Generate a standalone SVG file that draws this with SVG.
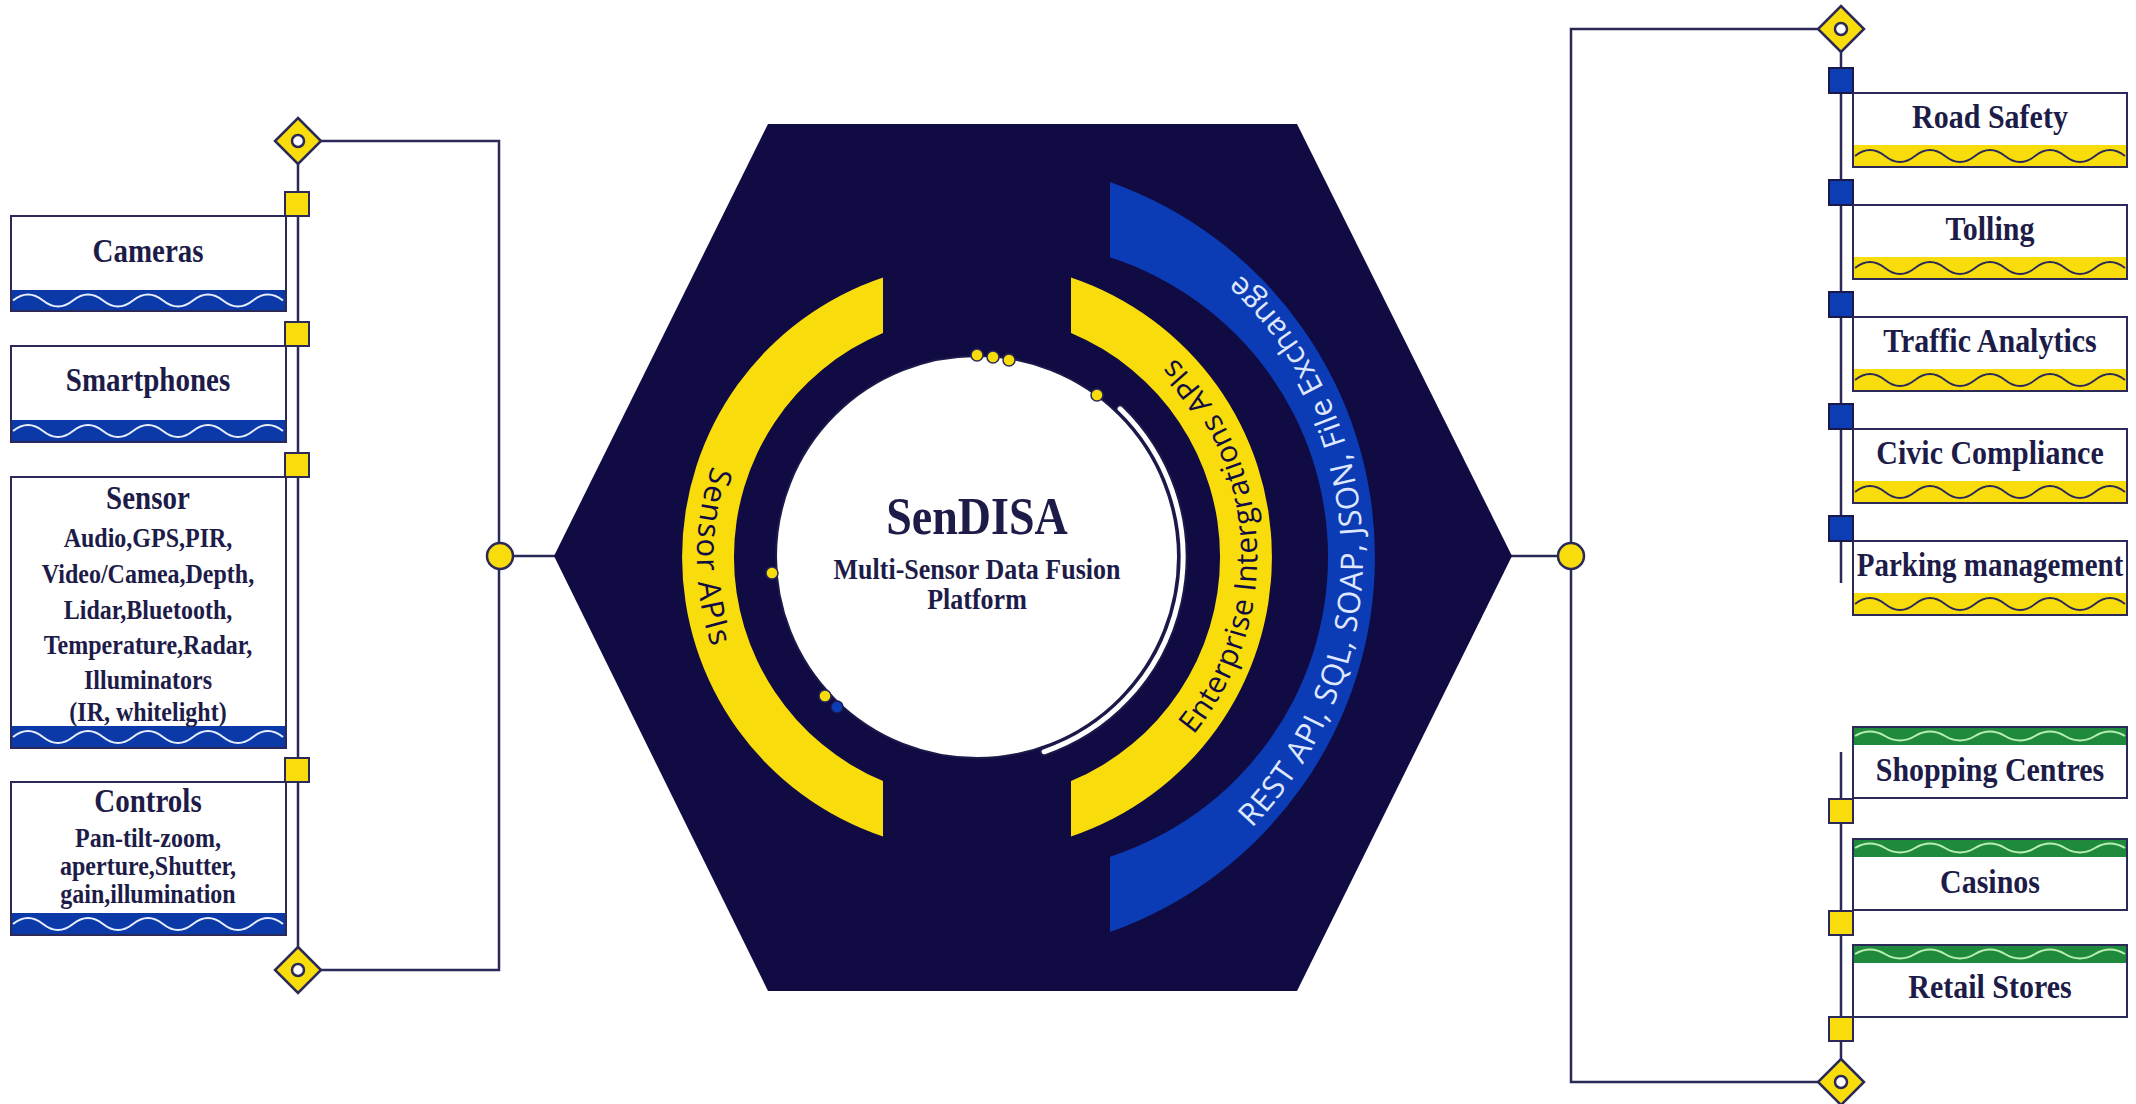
<svg xmlns="http://www.w3.org/2000/svg" xmlns:xlink="http://www.w3.org/1999/xlink" width="2136" height="1104" viewBox="0 0 2136 1104">
<style>
.ln{stroke:#2a2958;stroke-width:2.5;fill:none}
.box{fill:#fff;stroke:#2a2958;stroke-width:2}
.bxo{fill:none;stroke:#2a2958;stroke-width:2}
.bb{fill:#0b3aa8}
.by{fill:#f8dc0c}
.bg{fill:#1f8a3e}
.ww{stroke:#e6edff;stroke-width:2;fill:none}
.wd{stroke:#2a2958;stroke-width:1.8;fill:none}
.wg{stroke:#b9f0b0;stroke-width:2;fill:none}
.t{font-family:"Liberation Serif","Times New Roman",serif;font-weight:bold;fill:#1d1c48;text-anchor:middle}
.t30{font-size:30px}
.t29{font-size:29px}
.t24{font-size:24px}
.sqy{fill:#f8dc0c;stroke:#2a2958;stroke-width:2}
.sqb{fill:#0c3db3;stroke:#1a1a4a;stroke-width:2}
.dm{fill:#f8dc0c;stroke:#2a2958;stroke-width:2.5}
.dmc{fill:#fff;stroke:#2a2958;stroke-width:2.5}
.jn{fill:#f8dc0c;stroke:#2a2958;stroke-width:2.5}
.dot{fill:#f8dc0c;stroke:#2a2958;stroke-width:1.5}
.arct{font-family:"Open Sans","Noto Sans",sans-serif;text-anchor:middle}
</style>
<defs>
<path id="wv" d="M0,0 q15,-12 30,0 t30,0 t30,0 t30,0 t30,0 t30,0 t30,0 t30,0 t30,0" fill="none"/>
<path id="wv2" d="M0,0 q15,-9 30,0 t30,0 t30,0 t30,0 t30,0 t30,0 t30,0 t30,0 t30,0" fill="none"/>
<path id="pSensor" d="M904.5,286.5 A280,280 0 0 0 904.5,827.5"/>
<path id="pEnt" d="M1049.5,827.5 A280,280 0 0 0 1049.5,286.5"/>
<path id="pRest" d="M1109,919.7 A386,386 0 0 0 1109,194.3"/>
</defs>
<rect width="2136" height="1104" fill="#fff"/>

<g id="connectors">
<path class="ln" d="M321,141 H499 V970 H321"/>
<path class="ln" d="M298,163 V948"/>
<path class="ln" d="M513,556 H556"/>
<path class="ln" d="M1818,29 H1571 V1082 H1818"/>
<path class="ln" d="M1841,51 V583"/>
<path class="ln" d="M1841,752 V1060"/>
<path class="ln" d="M1385,556 H1558" stroke="#0a0830"/>
</g>

<g id="platform">
<polygon points="768,124 1297,124 1512,556 1297,991 768,991 554,556" fill="#110b44"/>
<path d="M883,277.4 A295,295 0 0 0 883,836.6 L883,781.1 A243,243 0 0 1 883,332.9 Z" fill="#f8dc0c"/>
<path d="M1071,277.4 A295,295 0 0 1 1071,836.6 L1071,781.1 A243,243 0 0 0 1071,332.9 Z" fill="#f8dc0c"/>
<path d="M1110,181.9 A398,398 0 0 1 1110,932.1 L1110,856.7 A315,315 0 0 0 1110,257.3 Z" fill="#0b3cb5"/>
<text class="arct" fill="#120c44" style="font-size:31px;letter-spacing:1.5px"><textPath href="#pSensor" startOffset="50%">Sensor APIs</textPath></text>
<text class="arct" fill="#120c44" style="font-size:30px;letter-spacing:0.5px"><textPath href="#pEnt" startOffset="52%">Enterprise Intergrations APIs</textPath></text>
<text class="arct" fill="#dfe7ff" style="font-size:31px;letter-spacing:0.6px"><textPath href="#pRest" startOffset="50.9%">REST API, SQL, SOAP, JSON, File Exchange</textPath></text>
<circle cx="977" cy="557" r="201" fill="#fff" stroke="#1c1a4a" stroke-width="2"/>
<path d="M1120.1,408.8 A206,206 0 0 1 1044.1,751.8" fill="none" stroke="#1c1a4a" stroke-width="9" stroke-linecap="round"/>
<path d="M1120.1,408.8 A206,206 0 0 1 1044.1,751.8" fill="none" stroke="#fff" stroke-width="5" stroke-linecap="round"/>
<circle class="dot" cx="977" cy="355" r="6"/>
<circle class="dot" cx="993" cy="357" r="6"/>
<circle class="dot" cx="1009" cy="360" r="6"/>
<circle class="dot" cx="1097" cy="395" r="6"/>
<circle class="dot" cx="772" cy="573" r="6"/>
<circle class="dot" cx="825" cy="696" r="6"/>
<circle cx="837" cy="707" r="6" fill="#0c3db3" stroke="#1a1a4a" stroke-width="1.5"/>
<text class="t" transform="translate(977,534) scale(1,1.15)" style="font-size:46px">SenDISA</text>
<text class="t" transform="translate(977,579) scale(1,1.15)" style="font-size:26px">Multi-Sensor Data Fusion</text>
<text class="t" transform="translate(977,609) scale(1,1.15)" style="font-size:26px">Platform</text>
</g>

<g id="junctions">
<circle class="jn" cx="500" cy="556" r="13"/>
<circle class="jn" cx="1571" cy="556" r="13"/>
<polygon class="dm" points="298,118 321,141 298,164 275,141"/>
<circle class="dmc" cx="298" cy="141" r="6"/>
<polygon class="dm" points="298,947 321,970 298,993 275,970"/>
<circle class="dmc" cx="298" cy="970" r="6"/>
<polygon class="dm" points="1841,6 1864,29 1841,52 1818,29"/>
<circle class="dmc" cx="1841" cy="29" r="6"/>
<polygon class="dm" points="1841,1059 1864,1082 1841,1105 1818,1082"/>
<circle class="dmc" cx="1841" cy="1082" r="6"/>
<rect class="sqy" x="285" y="192" width="24" height="24"/>
<rect class="sqy" x="285" y="322" width="24" height="24"/>
<rect class="sqy" x="285" y="453" width="24" height="24"/>
<rect class="sqy" x="285" y="758" width="24" height="24"/>
<rect class="sqb" x="1829" y="68" width="24" height="25"/>
<rect class="sqb" x="1829" y="180" width="24" height="25"/>
<rect class="sqb" x="1829" y="292" width="24" height="25"/>
<rect class="sqb" x="1829" y="404" width="24" height="25"/>
<rect class="sqb" x="1829" y="516" width="24" height="25"/>
<rect class="sqy" x="1829" y="799" width="24" height="24"/>
<rect class="sqy" x="1829" y="911" width="24" height="24"/>
<rect class="sqy" x="1829" y="1017" width="24" height="24"/>
</g>

<g id="cameras">
<rect class="box" x="11" y="216" width="275" height="95"/>
<rect class="bb" x="11" y="290" width="275" height="21"/>
<use href="#wv" x="13" y="300.5" class="ww"/>
<rect class="bxo" x="11" y="216" width="275" height="95"/>
<text class="t t29" transform="translate(148,262) scale(1,1.15)">Cameras</text>
</g>
<g id="smartphones">
<rect class="box" x="11" y="346" width="275" height="96"/>
<rect class="bb" x="11" y="420" width="275" height="22"/>
<use href="#wv" x="13" y="431" class="ww"/>
<rect class="bxo" x="11" y="346" width="275" height="96"/>
<text class="t t29" transform="translate(148,391) scale(1,1.15)">Smartphones</text>
</g>
<g id="sensor">
<rect class="box" x="11" y="477" width="275" height="271"/>
<rect class="bb" x="11" y="726" width="275" height="22"/>
<use href="#wv" x="13" y="737" class="ww"/>
<rect class="bxo" x="11" y="477" width="275" height="271"/>
<text class="t t29" transform="translate(148,509) scale(1,1.15)">Sensor</text>
<text class="t t24" transform="translate(148,547) scale(1,1.15)">Audio,GPS,PIR,</text>
<text class="t t24" transform="translate(148,583) scale(1,1.15)">Video/Camea,Depth,</text>
<text class="t t24" transform="translate(148,619) scale(1,1.15)">Lidar,Bluetooth,</text>
<text class="t t24" transform="translate(148,654) scale(1,1.15)">Temperature,Radar,</text>
<text class="t t24" transform="translate(148,689) scale(1,1.15)">Illuminators</text>
<text class="t t24" transform="translate(148,721) scale(1,1.15)">(IR, whitelight)</text>
</g>
<g id="controls">
<rect class="box" x="11" y="782" width="275" height="153"/>
<rect class="bb" x="11" y="913" width="275" height="22"/>
<use href="#wv" x="13" y="924" class="ww"/>
<rect class="bxo" x="11" y="782" width="275" height="153"/>
<text class="t t29" transform="translate(148,812) scale(1,1.15)">Controls</text>
<text class="t t24" transform="translate(148,847) scale(1,1.15)">Pan-tilt-zoom,</text>
<text class="t t24" transform="translate(148,875) scale(1,1.15)">aperture,Shutter,</text>
<text class="t t24" transform="translate(148,903) scale(1,1.15)">gain,illumination</text>
</g>

<g id="road-safety">
<rect class="box" x="1853" y="93" width="274" height="74"/>
<rect class="by" x="1853" y="145" width="274" height="22"/>
<use href="#wv" x="1855" y="156" class="wd"/>
<rect class="bxo" x="1853" y="93" width="274" height="74"/>
<text class="t t30" transform="translate(1990,128) scale(1,1.15)">Road Safety</text>
</g>
<g id="tolling">
<rect class="box" x="1853" y="205" width="274" height="74"/>
<rect class="by" x="1853" y="257" width="274" height="22"/>
<use href="#wv" x="1855" y="268" class="wd"/>
<rect class="bxo" x="1853" y="205" width="274" height="74"/>
<text class="t t30" transform="translate(1990,240) scale(1,1.15)">Tolling</text>
</g>
<g id="traffic-analytics">
<rect class="box" x="1853" y="317" width="274" height="74"/>
<rect class="by" x="1853" y="369" width="274" height="22"/>
<use href="#wv" x="1855" y="380" class="wd"/>
<rect class="bxo" x="1853" y="317" width="274" height="74"/>
<text class="t t30" transform="translate(1990,352) scale(1,1.15)">Traffic Analytics</text>
</g>
<g id="civic-compliance">
<rect class="box" x="1853" y="429" width="274" height="74"/>
<rect class="by" x="1853" y="481" width="274" height="22"/>
<use href="#wv" x="1855" y="492" class="wd"/>
<rect class="bxo" x="1853" y="429" width="274" height="74"/>
<text class="t t30" transform="translate(1990,464) scale(1,1.15)">Civic Compliance</text>
</g>
<g id="parking-management">
<rect class="box" x="1853" y="541" width="274" height="74"/>
<rect class="by" x="1853" y="593" width="274" height="22"/>
<use href="#wv" x="1855" y="604" class="wd"/>
<rect class="bxo" x="1853" y="541" width="274" height="74"/>
<text class="t t29" transform="translate(1990,576) scale(1,1.15)">Parking management</text>
</g>

<g id="shopping-centres">
<rect class="box" x="1853" y="727" width="274" height="71"/>
<rect class="bg" x="1853" y="727" width="274" height="18"/>
<use href="#wv2" x="1855" y="736" class="wg"/>
<rect class="bxo" x="1853" y="727" width="274" height="71"/>
<text class="t t30" transform="translate(1990,781) scale(1,1.15)">Shopping Centres</text>
</g>
<g id="casinos">
<rect class="box" x="1853" y="839" width="274" height="71"/>
<rect class="bg" x="1853" y="839" width="274" height="18"/>
<use href="#wv2" x="1855" y="848" class="wg"/>
<rect class="bxo" x="1853" y="839" width="274" height="71"/>
<text class="t t30" transform="translate(1990,893) scale(1,1.15)">Casinos</text>
</g>
<g id="retail-stores">
<rect class="box" x="1853" y="945" width="274" height="72"/>
<rect class="bg" x="1853" y="945" width="274" height="18"/>
<use href="#wv2" x="1855" y="954" class="wg"/>
<rect class="bxo" x="1853" y="945" width="274" height="72"/>
<text class="t t30" transform="translate(1990,998) scale(1,1.15)">Retail Stores</text>
</g>
</svg>
